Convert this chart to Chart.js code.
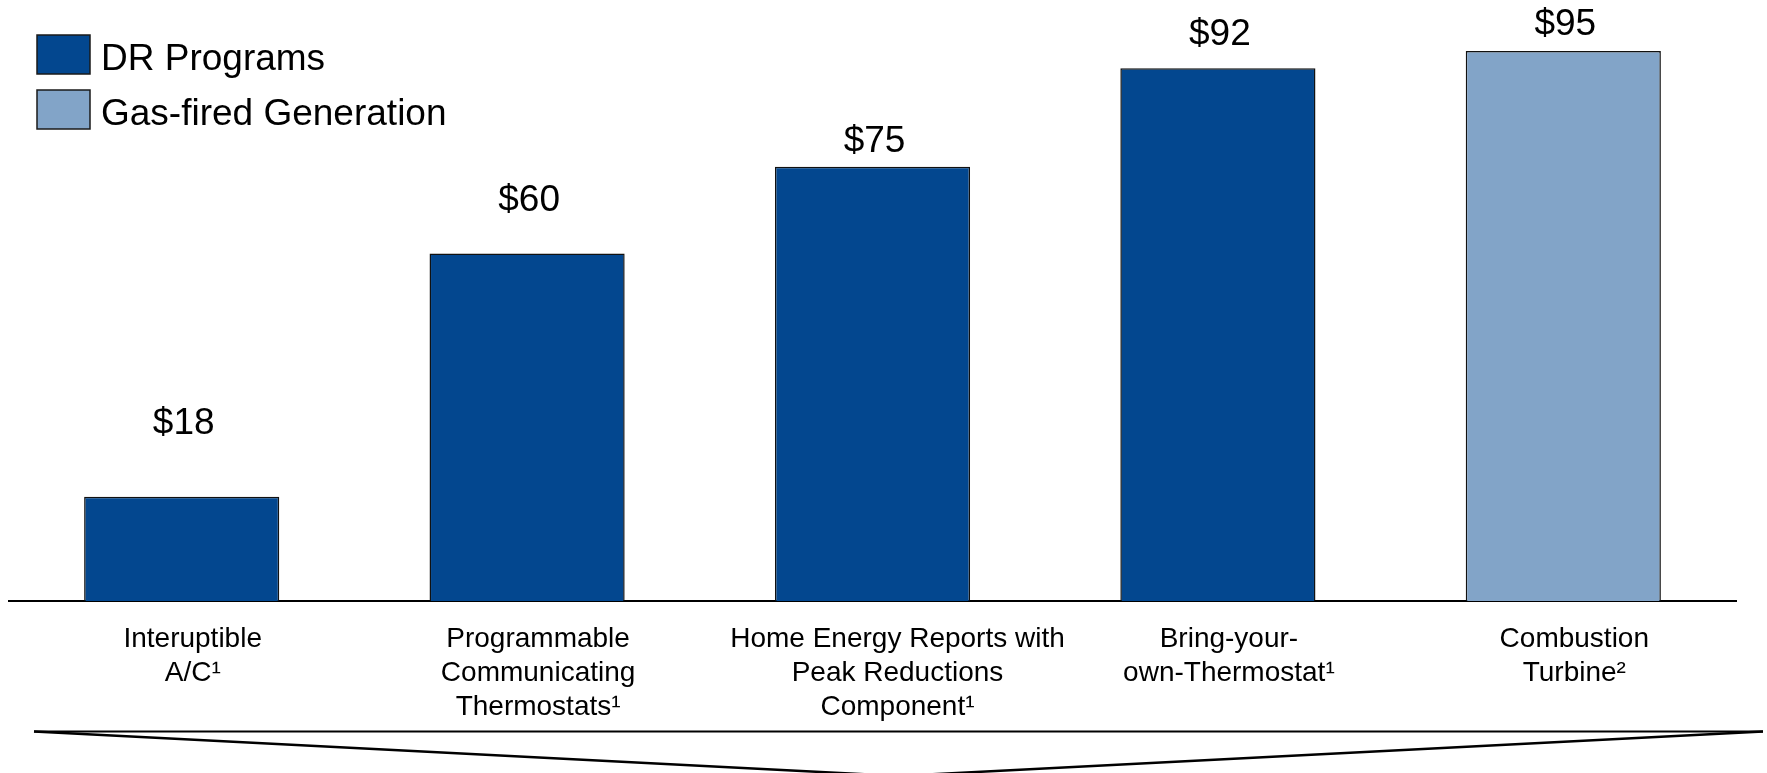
<!DOCTYPE html>
<html>
<head>
<meta charset="utf-8">
<script src="https://cdn.jsdelivr.net/npm/chart.js@4.4.1/dist/chart.umd.min.js"></script>
<style>
  html, body { margin: 0; padding: 0; background: #fff; }
</style>
</head>
<body>
<canvas id="myChart" width="1767" height="773"></canvas>
<script>
const categories = [
    ['Interuptible', 'A/C¹'],
    ['Programmable', 'Communicating', 'Thermostats¹'],
    ['Home Energy Reports with', 'Peak Reductions', 'Component¹'],
    ['Bring-your-', 'own-Thermostat¹'],
    ['Combustion', 'Turbine²']
];
const drPrograms = [18, 60, 75, 92, null];
const gasFired = [null, null, null, null, 95];
const seriesNames = ['DR Programs', 'Gas-fired Generation'];
// space between each value label's baseline and the top of its bar
const labelGap = [63, 43, 15, 23, 16];

const FONT = "'Liberation Sans', Arial, sans-serif";
const DARK_BLUE = '#03478F';
const LIGHT_BLUE = '#82A4C8';

// "$NN" labels above the bars
const valueLabels = {
    id: 'valueLabels',
    afterDatasetsDraw(chart) {
        const ctx = chart.ctx;
        ctx.save();
        ctx.font = '37px ' + FONT;
        ctx.fillStyle = '#000';
        ctx.textAlign = 'center';
        ctx.textBaseline = 'alphabetic';
        chart.data.datasets.forEach((ds, di) => {
            chart.getDatasetMeta(di).data.forEach((bar, i) => {
                const v = ds.data[i];
                if (v === null) return;
                ctx.fillText('$' + v, bar.x + 2, bar.y - labelGap[i]);
            });
        });
        ctx.restore();
    }
};

// stacked legend in the top-left corner
const boxLegend = {
    id: 'boxLegend',
    afterDraw(chart) {
        const ctx = chart.ctx;
        ctx.save();
        ctx.font = '37px ' + FONT;
        ctx.textBaseline = 'alphabetic';
        chart.data.datasets.forEach((ds, i) => {
            const top = 35 + i * 55;
            ctx.fillStyle = ds.backgroundColor;
            ctx.fillRect(37, top, 53, 39);
            ctx.lineWidth = 1.5;
            ctx.strokeStyle = '#1a1a1a';
            ctx.strokeRect(37, top, 53, 39);
            ctx.fillStyle = '#000';
            ctx.fillText(ds.label, 101, top + 35);
        });
        ctx.restore();
    }
};

// bracket under the category labels
const bracket = {
    id: 'bracket',
    afterDraw(chart) {
        const ctx = chart.ctx;
        const y = 731.5, left = 34, right = 1763;
        const mid = (left + right) / 2;
        ctx.save();
        ctx.strokeStyle = '#000';
        ctx.lineWidth = 2;
        ctx.beginPath();
        ctx.moveTo(left, y);
        ctx.lineTo(right, y);
        ctx.stroke();
        ctx.lineWidth = 2.5;
        ctx.beginPath();
        ctx.moveTo(left, y);
        ctx.lineTo(mid, 776);
        ctx.lineTo(right, y);
        ctx.stroke();
        ctx.restore();
    }
};

const data = {
    labels: categories,
    datasets: [{
        label: seriesNames[0],
        data: drPrograms,
        backgroundColor: DARK_BLUE,
        borderColor: '#111',
        borderWidth: 1.5
    }, {
        label: seriesNames[1],
        data: gasFired,
        backgroundColor: LIGHT_BLUE,
        borderColor: '#111',
        borderWidth: 1.5
    }]
};

const config = {
    type: 'bar',
    data: data,
    options: {
        responsive: false,
        animation: false,
        devicePixelRatio: 1,
        layout: { padding: { top: 22, left: 9, right: 31, bottom: 0 } },
        datasets: {
            bar: { grouped: false, categoryPercentage: 1, barPercentage: 0.565 }
        },
        scales: {
            x: {
                z: 1,
                grid: { display: false, drawTicks: false },
                border: { display: true, color: '#000', width: 2 },
                ticks: {
                    color: '#000',
                    padding: 21,
                    labelOffset: 11,
                    maxRotation: 0,
                    autoSkip: false,
                    font: { family: FONT, size: 28, lineHeight: 34 / 28 },
                    // the long third label sits a little further right
                    callback: (value, i) => i === 2
                        ? categories[i].map(line => '\u2002\u2002' + line)
                        : categories[i]
                },
                afterFit: (scale) => { scale.height = 172; }
            },
            y: { display: false, min: 0, max: 100 }
        },
        plugins: {
            legend: { display: false },
            tooltip: { enabled: false }
        }
    },
    plugins: [valueLabels, boxLegend, bracket]
};

new Chart(document.getElementById('myChart'), config);
</script>
</body>
</html>
